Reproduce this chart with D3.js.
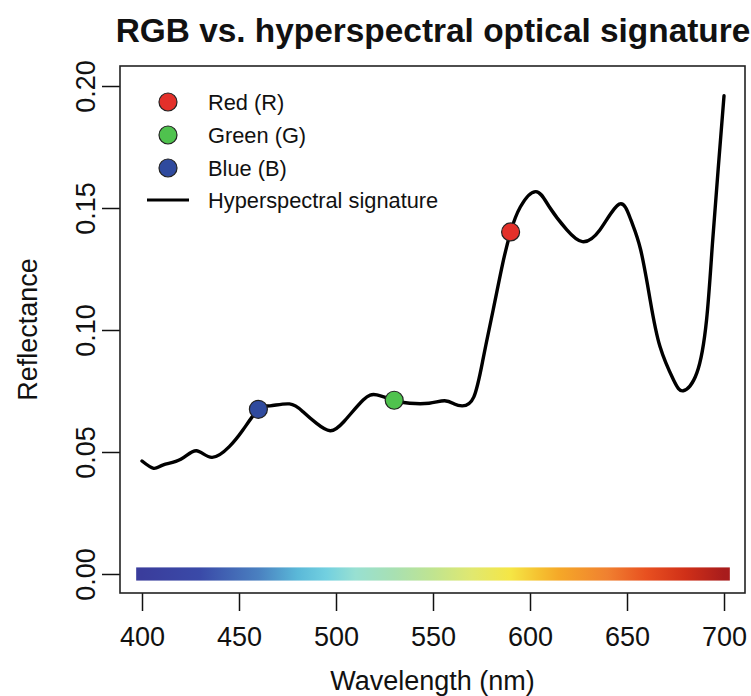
<!DOCTYPE html>
<html><head><meta charset="utf-8">
<script src="https://cdn.jsdelivr.net/npm/d3@7"></script>
<style>body{margin:0;background:#fff}svg{display:block}text{font-family:"Liberation Sans",Arial,sans-serif;fill:#111}</style>
</head><body><svg id="c" width="751" height="696"></svg>
<script>
// ---- data ----
const wavelengths = [400,406,411,420,428,436,445,452,460,466,476,483,490,497,504,514,521,530,538,548,556,561,565,571,576,581,586,590,595,603,610,619,627,636,646,652,657,662,667,674,679,686,691,694,697,700];
const reflectance = [0.0463,0.0433,0.0447,0.0470,0.0505,0.0478,0.0522,0.0590,0.0675,0.0689,0.0697,0.0665,0.0617,0.0587,0.0624,0.0713,0.0734,0.0712,0.0700,0.0700,0.0710,0.0697,0.0689,0.0725,0.0889,0.1082,0.1275,0.1402,0.1504,0.1567,0.1504,0.1410,0.1362,0.1410,0.1516,0.1451,0.1330,0.1120,0.0932,0.0795,0.0751,0.0824,0.1041,0.1350,0.1660,0.1960];
const rgbBands = ["Red (R)","Green (G)","Blue (B)"];
const rgbWavelengths = [590,530,460];
const rgbReflectance = [0.1402,0.0712,0.0675];
const rgbColors = ["#e3302a","#4fc24e","#2f4a9e"];
const lineLabel = "Hyperspectral signature";
const xTicks = [400,450,500,550,600,650,700];
const yTicks = [0,0.05,0.10,0.15,0.20];
const spectrumStops = [400,430,460,480,495,510,530,550,570,590,605,615,640,660,680,700];
const spectrumColors = ["#3a3d9c","#3a4aa8","#4a80c0","#5ab8d8","#72d0e0","#98e0d2","#a8e0b2","#c0e490","#e0e870","#f5e645","#f5c030","#f5a828","#f08030","#e85020","#d03018","#a81c1c"];
const barRange = [397,703];

// ---- layout ----
const L=120,R=745,T=66,B=593;
const svg = d3.select("#c");
const x = d3.scaleLinear().domain([388.66,710.82]).range([L,R]);
const y = d3.scaleLinear().domain([-0.00779,0.20820]).range([B,T]);

// title
svg.append("text").attr("x",433).attr("y",42).attr("text-anchor","middle")
  .style("font-size","33.4px").style("font-weight","bold").text("RGB vs. hyperspectral optical signature");

// spectrum bar gradient
const defs = svg.append("defs");
const grad = defs.append("linearGradient").attr("id","spec").attr("x1","0%").attr("x2","100%");
grad.selectAll("stop").data(spectrumStops).join("stop")
  .attr("offset",d=>((d-barRange[0])/(barRange[1]-barRange[0])*100)+"%")
  .attr("stop-color",(d,i)=>spectrumColors[i]);
svg.append("rect").attr("x",x(barRange[0])).attr("width",x(barRange[1])-x(barRange[0]))
  .attr("y",y(0.0027)).attr("height",y(-0.0027)-y(0.0027)).attr("fill","url(#spec)");

// line
const pts = wavelengths.map((w,i)=>[w,reflectance[i]]);
svg.append("path").datum(pts)
  .attr("d",d3.line().x(d=>x(d[0])).y(d=>y(d[1])).curve(d3.curveNatural))
  .attr("fill","none").attr("stroke","#000").attr("stroke-width",3.4).attr("stroke-linejoin","round").attr("stroke-linecap","round");

// rgb points
svg.selectAll("circle.pt").data(rgbBands).join("circle").attr("class","pt")
  .attr("cx",(d,i)=>x(rgbWavelengths[i])).attr("cy",(d,i)=>y(rgbReflectance[i])).attr("r",9)
  .attr("fill",(d,i)=>rgbColors[i]).attr("stroke","#222").attr("stroke-width",1.2);

// axes
const xa = svg.append("g").attr("transform",`translate(0,${B})`)
  .call(d3.axisBottom(x).tickValues(xTicks).tickSize(18).tickPadding(0).tickFormat(d3.format("d")));
xa.select(".domain").remove();
xa.selectAll("line").attr("stroke","#111").attr("stroke-width",1.5);
xa.selectAll("text").attr("dy",null).attr("y",53).style("font-size","27px").attr("fill","#111");

const ya = svg.append("g").attr("transform",`translate(${L},0)`)
  .call(d3.axisLeft(y).tickValues(yTicks).tickSize(18).tickFormat(d3.format(".2f")));
ya.select(".domain").remove();
ya.selectAll("line").attr("stroke","#111").attr("stroke-width",1.5);
ya.selectAll("text").attr("dy",null)
  .attr("transform","translate(-25,0) rotate(-90)").attr("x",0).attr("y",0)
  .attr("text-anchor","middle").style("font-size","27px").attr("fill","#111");

// box
svg.append("rect").attr("x",L).attr("y",T).attr("width",R-L).attr("height",B-T)
  .attr("fill","none").attr("stroke","#222").attr("stroke-width",1.6);

// axis titles
svg.append("text").attr("x",(L+R)/2).attr("y",690).attr("text-anchor","middle")
  .style("font-size","27px").text("Wavelength (nm)");
svg.append("text").attr("transform",`translate(37,${(T+B)/2}) rotate(-90)`).attr("text-anchor","middle")
  .style("font-size","27px").text("Reflectance");

// legend
const lg = svg.append("g");
const legY = [102,135,168,200];
lg.selectAll("circle").data(rgbBands).join("circle")
  .attr("cx",168).attr("cy",(d,i)=>legY[i]).attr("r",9)
  .attr("fill",(d,i)=>rgbColors[i]).attr("stroke","#222").attr("stroke-width",1.2);
lg.append("line").attr("x1",147).attr("x2",189).attr("y1",legY[3]).attr("y2",legY[3])
  .attr("stroke","#000").attr("stroke-width",3.2);
lg.selectAll("text").data(rgbBands.concat([lineLabel])).join("text")
  .attr("x",208).attr("y",(d,i)=>legY[i]).attr("dy","0.35em")
  .style("font-size","21.8px").text(d=>d);
</script></body></html>
